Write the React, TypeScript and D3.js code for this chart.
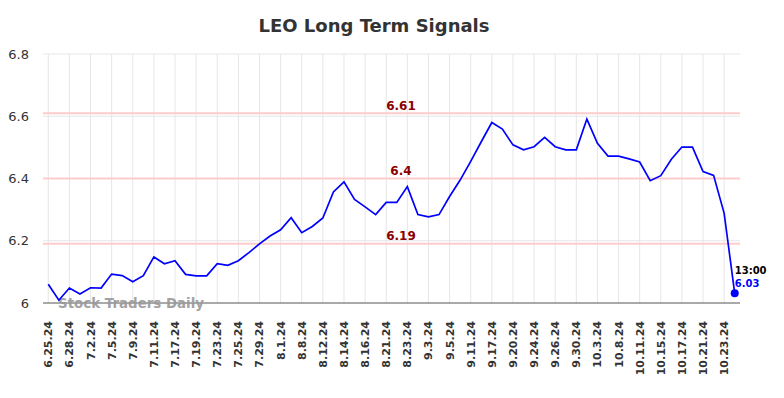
import React, { useEffect, useRef } from "react";
import * as d3 from "d3";

const tickLabels = [
  "6.25.24", "6.28.24", "7.2.24", "7.5.24", "7.9.24", "7.11.24", "7.17.24",
  "7.19.24", "7.23.24", "7.25.24", "7.29.24", "8.1.24", "8.8.24", "8.12.24",
  "8.14.24", "8.16.24", "8.21.24", "8.23.24", "9.3.24", "9.5.24", "9.11.24",
  "9.17.24", "9.20.24", "9.24.24", "9.26.24", "9.30.24", "10.3.24", "10.8.24",
  "10.11.24", "10.15.24", "10.17.24", "10.21.24", "10.23.24",
];

const prices = [
  6.06, 6.009, 6.048, 6.029, 6.049, 6.048, 6.093, 6.088, 6.068, 6.088,
  6.148, 6.126, 6.136, 6.092, 6.087, 6.087, 6.126, 6.121, 6.136, 6.162,
  6.19, 6.215, 6.235, 6.274, 6.226, 6.246, 6.273, 6.357, 6.389, 6.333,
  6.309, 6.284, 6.323, 6.323, 6.374, 6.284, 6.277, 6.284, 6.342, 6.395,
  6.455, 6.518, 6.58, 6.559, 6.508, 6.492, 6.502, 6.532, 6.502, 6.492,
  6.492, 6.591, 6.513, 6.472, 6.472, 6.463, 6.453, 6.393, 6.409, 6.462,
  6.501, 6.501, 6.422, 6.41, 6.288, 6.031,
];

const signalLevels = [6.61, 6.4, 6.19];
const yTicks = [6, 6.2, 6.4, 6.6, 6.8];
const lastTime = "13:00";

const App = () => {
  const ref = useRef<SVGSVGElement>(null);

  useEffect(() => {
    const width = 784;
    const height = 398;
    const left = 43;
    const right = 740;
    const top = 54;
    const bottom = 303;
    const font = "DejaVu Sans, sans-serif";

    const svg = d3.select(ref.current);
    svg.selectAll("*").remove();
    svg.attr("width", width).attr("height", height);

    const x = d3
      .scaleLinear()
      .domain([-0.5, prices.length - 0.5])
      .range([left, right]);
    const y = d3.scaleLinear().domain([6, 6.8]).range([bottom, top]);

    // title
    svg
      .append("text")
      .attr("x", 374)
      .attr("y", 32)
      .attr("text-anchor", "middle")
      .style("font-family", font)
      .style("font-size", "18px")
      .style("font-weight", "bold")
      .style("fill", "#333")
      .text("LEO Long Term Signals");

    // horizontal grid
    svg
      .append("g")
      .selectAll("line")
      .data(yTicks.slice(1))
      .join("line")
      .attr("x1", left)
      .attr("x2", right)
      .attr("y1", (d) => y(d))
      .attr("y2", (d) => y(d))
      .style("stroke", "#e6e6e6")
      .style("stroke-width", 1);

    // vertical grid
    svg
      .append("g")
      .selectAll("line")
      .data(tickLabels)
      .join("line")
      .attr("x1", (_, i) => x(i * 2))
      .attr("x2", (_, i) => x(i * 2))
      .attr("y1", top)
      .attr("y2", bottom)
      .style("stroke", "#e6e6e6")
      .style("stroke-width", 1);

    // y tick labels
    svg
      .append("g")
      .selectAll("text")
      .data(yTicks)
      .join("text")
      .attr("x", 29)
      .attr("y", (d) => y(d))
      .attr("dy", "0.35em")
      .attr("text-anchor", "end")
      .style("font-family", font)
      .style("font-size", "13px")
      .style("fill", "#333")
      .text((d) => (d === 6 ? "6" : d3.format(".1f")(d)));

    // signal lines
    svg
      .append("g")
      .selectAll("line")
      .data(signalLevels)
      .join("line")
      .attr("x1", left)
      .attr("x2", right)
      .attr("y1", (d) => y(d))
      .attr("y2", (d) => y(d))
      .style("stroke", "#ffcccc")
      .style("stroke-width", 2);

    svg
      .append("g")
      .selectAll("text")
      .data(signalLevels)
      .join("text")
      .attr("x", 401)
      .attr("y", (d) => y(d) - 3.5)
      .attr("text-anchor", "middle")
      .style("font-family", font)
      .style("font-size", "12px")
      .style("font-weight", "bold")
      .style("fill", "#8b0000")
      .text((d) => String(d));

    // bottom axis line
    svg
      .append("line")
      .attr("x1", left)
      .attr("x2", right)
      .attr("y1", bottom)
      .attr("y2", bottom)
      .style("stroke", "#555")
      .style("stroke-width", 1);

    // x labels
    svg
      .append("g")
      .selectAll("text")
      .data(tickLabels)
      .join("text")
      .attr(
        "transform",
        (_, i) => `translate(${x(i * 2) + 4},${bottom + 18}) rotate(-90)`
      )
      .attr("text-anchor", "end")
      .style("font-family", font)
      .style("font-size", "11px")
      .style("font-weight", "bold")
      .style("fill", "#333")
      .text((d) => d);

    // watermark
    svg
      .append("text")
      .attr("x", 58)
      .attr("y", 308)
      .style("font-family", font)
      .style("font-size", "13.4px")
      .style("font-weight", "bold")
      .style("fill", "#999")
      .style("opacity", 0.9)
      .text("Stock Traders Daily");

    // price line
    const line = d3
      .line<number>()
      .x((_, i) => x(i))
      .y((d) => y(d));

    svg
      .append("path")
      .datum(prices)
      .attr("d", line)
      .style("fill", "none")
      .style("stroke", "#0000ff")
      .style("stroke-width", 1.7);

    const lastIdx = prices.length - 1;
    const last = prices[lastIdx];

    svg
      .append("circle")
      .attr("cx", x(lastIdx))
      .attr("cy", y(last))
      .attr("r", 4)
      .style("fill", "#0000ff");

    svg
      .append("text")
      .attr("x", x(lastIdx))
      .attr("y", y(last) - 19)
      .style("font-family", font)
      .style("font-size", "10px")
      .style("font-weight", "bold")
      .style("fill", "#000")
      .text(lastTime);

    svg
      .append("text")
      .attr("x", x(lastIdx))
      .attr("y", y(last) - 6)
      .style("font-family", font)
      .style("font-size", "10px")
      .style("font-weight", "bold")
      .style("fill", "#0000ff")
      .text(d3.format(".2f")(last));
  }, []);

  return <svg ref={ref} style={{ position: "absolute", left: 0, top: 0 }} />;
};

export default App;
